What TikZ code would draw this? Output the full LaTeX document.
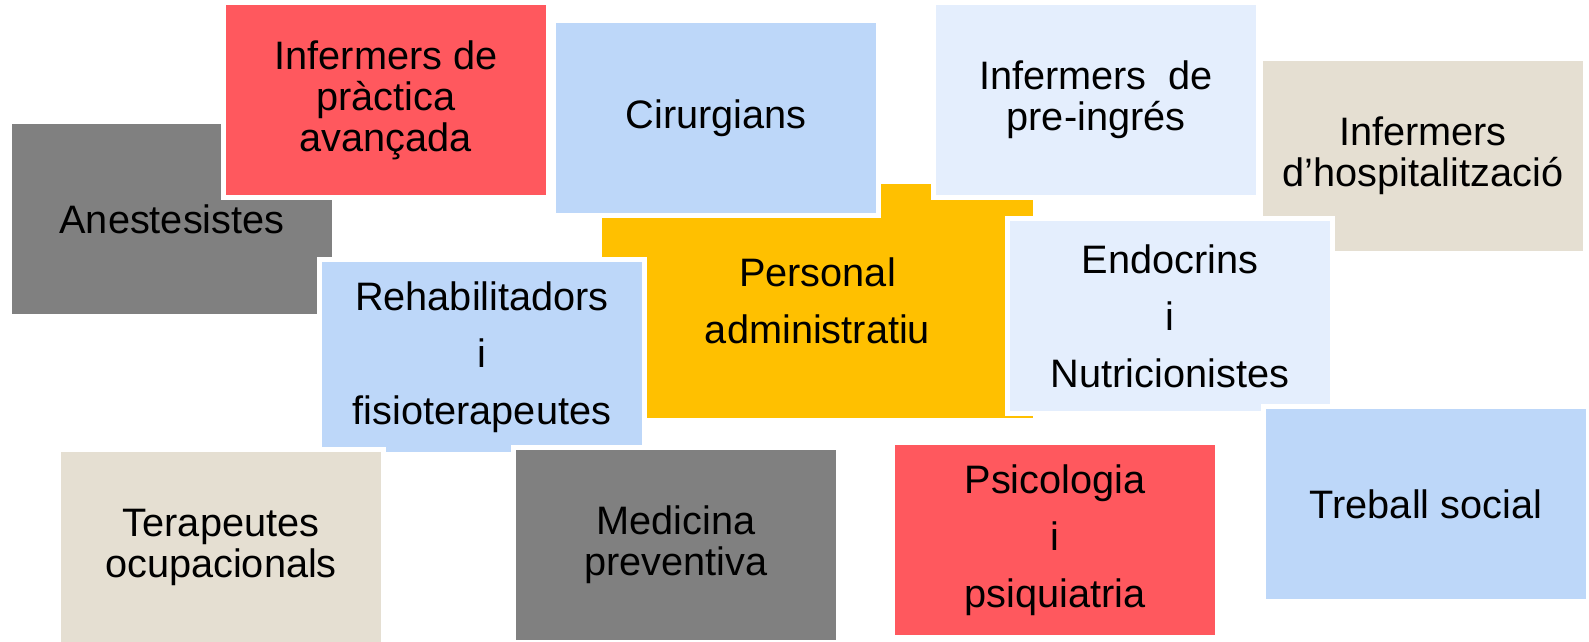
\documentclass[tikz,border=0pt]{standalone}
\usepackage{fontspec}
\setmainfont{Liberation Sans}
\definecolor{redbox}{HTML}{FF585E}
\definecolor{graybox}{HTML}{808080}
\definecolor{bluebox}{HTML}{BDD7F9}
\definecolor{paleblue}{HTML}{E4EEFD}
\definecolor{beigebox}{HTML}{E5DFD2}
\definecolor{orangebox}{HTML}{FFC000}
\tikzset{
  tile/.style={draw=white, line width=5pt, minimum width=325pt, minimum height=195pt,
    inner sep=0pt, align=center, font=\fontsize{39.7}{41}\selectfont, text=black}
}
\begin{document}
\begin{tikzpicture}[x=1pt, y=-1pt]
\useasboundingbox (0,0) rectangle (1589,641);
\fill[white] (0,0) rectangle (1589,641);
\node[tile, fill=graybox] (anest) at (172,219) {Anestesistes};
\node[tile, fill=orangebox, minimum width=436pt, minimum height=239pt] (admin) at (817.5,301) {Personal\\[16pt]administratiu};
\node[tile, fill=beigebox] (hosp) at (1423,156) {Infermers\\d’hospitalització};
\node[tile, fill=redbox] (pa) at (386,100) {Infermers de\\pràctica\\avançada};
\node[tile, fill=bluebox] (cir) at (716,118) {Cirurgians};
\node[tile, fill=paleblue] (pre) at (1096,100) {Infermers~ de\\pre-ingrés};
\node[tile, fill=bluebox] (rehab) at (482,357) {Rehabilitadors\\[16pt]i\\[16pt]fisioterapeutes};
\node[tile, fill=paleblue] (endo) at (1170,316) {Endocrins\\[16pt]i\\[16pt]Nutricionistes};
\node[tile, fill=beigebox] (tera) at (221,547) {Terapeutes\\ocupacionals};
\node[tile, fill=graybox] (med) at (676,545) {Medicina\\preventiva};
\node[tile, fill=redbox] (psi) at (1055,540) {Psicologia\\[16pt]i\\[16pt]psiquiatria};
\node[tile, fill=bluebox] (treb) at (1426,504) {Treball social};
\end{tikzpicture}
\end{document}
